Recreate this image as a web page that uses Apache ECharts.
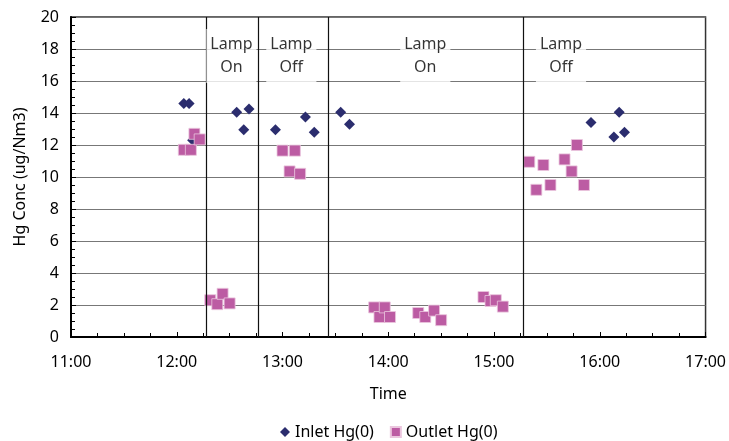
<!DOCTYPE html>
<html>
<head>
<meta charset="utf-8">
<script src="https://cdn.jsdelivr.net/npm/echarts@6/dist/echarts.min.js"></script>
<style>html,body{margin:0;padding:0;background:#fff;}#c{width:729px;height:441px;}</style>
</head>
<body>
<div id="c"></div>
<script>
var xTickLabels = ["11:00","12:00","13:00","14:00","15:00","16:00","17:00"];
var inletTimes = ["12:04","12:07","12:09","12:34","12:38","12:41","12:56","13:13","13:18","13:33","13:38","15:55","16:08","16:11","16:14"];
var inletValues = [14.6,14.6,12.3,14.05,12.95,14.25,12.95,13.75,12.8,14.05,13.3,13.4,12.5,14.05,12.8];
var outletTimes = ["12:04","12:08","12:10","12:13","12:19","12:23","12:26","12:30","13:00","13:04","13:07","13:10","13:52","13:55","13:58","14:01","14:17","14:21","14:26","14:30","14:54","14:58","15:01","15:05","15:20","15:24","15:28","15:32","15:40","15:44","15:47","15:51"];
var outletValues = [11.7,11.7,12.7,12.35,2.3,2.05,2.7,2.1,11.65,10.35,11.65,10.2,1.85,1.25,1.85,1.25,1.5,1.25,1.65,1.05,2.5,2.25,2.3,1.9,10.95,9.2,10.75,9.5,11.1,10.35,12.0,9.5];
var lampLineTimes = ["12:17","12:46","13:26","15:17"];
var lampLabelTimes = ["12:31","13:05","14:21","15:38"];
var lampLabels = ["Lamp\nOn","Lamp\nOff","Lamp\nOn","Lamp\nOff"];
var lampLabelY = 17.56;

function toHours(s){ var p = s.split(":"); return +p[0] + (+p[1])/60; }
function pairs(ts, vs){ return ts.map(function(t,i){ return [toHours(t), vs[i]]; }); }

var FONT = "Noto Sans";
var chart = echarts.init(document.getElementById('c'), null, {renderer:'canvas'});
chart.setOption({
  animation: false,
  textStyle: {fontFamily: FONT},
  grid: {left: 71, right: 21, top: 17, bottom: 104, show: true, borderColor: '#333', borderWidth: 1.5, backgroundColor: 'transparent'},
  legend: {
    bottom: 1, left: 280, padding: 0, itemWidth: 10, itemHeight: 10, itemGap: 16,
    textStyle: {fontFamily: FONT, fontSize: 16, color: '#000'},
    data: [{name: 'Inlet Hg(0)', icon: 'diamond'}, {name: 'Outlet Hg(0)', icon: 'rect'}]
  },
  xAxis: {
    type: 'value', min: 11, max: 17, interval: 1,
    name: 'Time', nameLocation: 'middle', nameGap: 49,
    nameTextStyle: {fontFamily: FONT, fontSize: 16, color: '#000'},
    axisLine: {show: true, onZero: false, lineStyle: {color: '#000', width: 2}},
    axisTick: {show: true, inside: true, length: 5, lineStyle: {color: '#000'}},
    minorTick: {show: true, splitNumber: 4, length: 4, lineStyle: {color: '#000'}},
    splitLine: {show: false},
    axisLabel: {margin: 17, fontFamily: FONT, fontSize: 16, color: '#000',
      formatter: function(v){ return xTickLabels[Math.round(v - 11)]; }}
  },
  yAxis: {
    type: 'value', min: 0, max: 20, interval: 2,
    name: 'Hg Conc (ug/Nm3)', nameLocation: 'middle', nameGap: 43,
    nameTextStyle: {fontFamily: FONT, fontSize: 16, color: '#000'},
    axisLine: {show: true, lineStyle: {color: '#000', width: 2}},
    axisTick: {show: true, inside: true, length: 5, lineStyle: {color: '#000'}},
    minorTick: {show: true, splitNumber: 4, length: 4, lineStyle: {color: '#000'}},
    splitLine: {show: true, lineStyle: {color: '#777', width: 1.2}},
    axisLabel: {margin: 12, fontFamily: FONT, fontSize: 16, color: '#000'}
  },
  series: [
    {
      name: 'Inlet Hg(0)', type: 'scatter', symbol: 'diamond', symbolSize: 11,
      itemStyle: {color: '#2B2D6E', opacity: 1},
      data: pairs(inletTimes, inletValues),
      z: 3,
      markLine: {
        silent: true, symbol: 'none', label: {show: false},
        lineStyle: {color: '#111', width: 1.2, type: 'solid'},
        data: lampLineTimes.map(function(t){ return {xAxis: toHours(t)}; })
      }
    },
    {
      name: 'Outlet Hg(0)', type: 'scatter', symbol: 'rect', symbolSize: 11,
      itemStyle: {color: '#BC5CA3', borderColor: '#EBC6DE', borderWidth: 0.8, opacity: 1},
      data: pairs(outletTimes, outletValues),
      z: 4
    },
    {
      name: 'lamp', type: 'scatter', symbolSize: 0, silent: true, z: 5,
      data: lampLabelTimes.map(function(t,i){ return {value: [toHours(t), lampLabelY], label: {formatter: lampLabels[i]}}; }),
      label: {
        show: true, position: 'inside', fontFamily: FONT, fontSize: 16, color: '#000',
        lineHeight: 23, align: 'center', backgroundColor: '#fff', padding: [0, 4, 8, 4]
      }
    }
  ]
});
</script>
</body>
</html>
